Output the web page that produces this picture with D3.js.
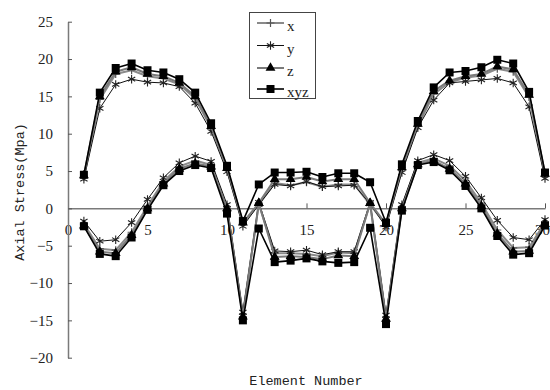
<!DOCTYPE html>
<html>
<head>
<meta charset="utf-8">
<script src="https://cdn.jsdelivr.net/npm/d3@7/dist/d3.min.js"></script>
<style>
  html, body { margin: 0; padding: 0; background: #fff; }
  svg { display: block; }
  .tick text { font-family: "Liberation Serif", serif; font-size: 15px; fill: #222; }
  .title { font-family: "Liberation Mono", monospace; font-size: 13.5px; fill: #222; }
  .leg { font-family: "Liberation Serif", serif; font-size: 15px; fill: #222; }
</style>
</head>
<body>
<svg id="chart" width="550" height="390"></svg>
<script>
// Element numbers along the beam
const elements = [1, 2, 3, 4, 5, 6, 7, 8, 9, 10, 11, 12, 13, 14, 15,
                  16, 17, 18, 19, 20, 21, 22, 23, 24, 25, 26, 27, 28, 29, 30];

// Axial stress (MPa), upper and lower fibre curves for each load direction
const xUpper   = [4.2, 14.6, 18.0, 18.5, 17.7, 17.4, 16.6, 14.7, 10.8, 5.2, -2.0, 0.5, 3.4, 3.1, 3.5, 2.9, 3.2, 3.2, 0.5, -2.2, 5.2, 11.0, 15.3, 16.9, 17.5, 17.8, 18.7, 18.3, 14.9, 4.4];
const xLower   = [-2.1, -5.4, -5.6, -3.2, 0.3, 3.6, 5.6, 6.4, 5.8, 0.2, -14.2, 0.6, -6.0, -6.0, -6.1, -6.4, -5.9, -6.0, 0.6, -14.6, 0.2, 6.1, 6.7, 5.7, 3.7, 0.7, -2.9, -5.3, -5.2, -1.9];
const yUpper   = [3.9, 13.4, 16.6, 17.3, 16.9, 16.8, 16.3, 14.1, 10.3, 4.9, -2.4, 0.5, 3.2, 3.0, 3.6, 2.9, 3.0, 3.1, 0.6, -2.5, 4.8, 10.8, 14.5, 16.8, 17.0, 17.2, 17.4, 16.8, 13.6, 4.0];
const yLower   = [-1.7, -4.4, -4.2, -1.9, 1.2, 4.1, 6.1, 7.0, 6.3, 0.5, -13.9, 0.8, -5.7, -5.8, -5.6, -6.2, -5.8, -5.8, 0.8, -14.3, 0.5, 6.4, 7.2, 6.4, 4.3, 1.4, -1.6, -3.9, -4.2, -1.5];
const zUpper   = [4.4, 15.0, 18.3, 18.9, 18.0, 17.7, 16.8, 15.0, 11.0, 5.4, -1.9, 0.7, 3.9, 3.9, 4.2, 3.6, 3.9, 3.9, 0.7, -2.1, 5.5, 11.3, 15.7, 17.1, 17.7, 18.0, 19.0, 18.6, 15.2, 4.6];
const zLower   = [-2.3, -5.8, -6.0, -3.6, 0.0, 3.3, 5.3, 6.0, 5.6, 0.0, -14.5, 0.7, -6.5, -6.4, -6.5, -6.8, -6.3, -6.4, 0.7, -14.8, 0.0, 5.9, 6.4, 5.3, 3.3, 0.3, -3.4, -5.8, -5.7, -2.1];
const xyzUpper = [4.5, 15.5, 18.8, 19.4, 18.5, 18.2, 17.3, 15.5, 11.4, 5.7, -1.7, 3.2, 4.8, 4.8, 4.9, 4.2, 4.7, 4.7, 3.5, -1.9, 5.9, 11.7, 16.2, 18.2, 18.4, 18.9, 19.9, 19.4, 15.6, 4.8];
const xyzLower = [-2.4, -6.1, -6.4, -3.9, -0.2, 3.1, 5.0, 5.8, 5.4, -0.7, -15.0, -2.7, -7.2, -7.0, -6.7, -7.1, -7.3, -7.2, -2.6, -15.5, -0.3, 5.8, 6.2, 5.1, 3.0, 0.0, -3.7, -6.2, -6.0, -2.3];

const seriesNames = ["x", "y", "z", "xyz"];
const xTicks = [0, 5, 10, 15, 20, 25, 30];
const yTicks = [-20, -15, -10, -5, 0, 5, 10, 15, 20, 25];

const svg = d3.select("#chart");

const xScale = d3.scaleLinear().domain([0, 30]).range([68, 545]);
const yScale = d3.scaleLinear().domain([-20, 25]).range([357.7, 21.7]);

// marker shapes
const markerPaths = {
  plus: () => "M-4,0H4M0,-4V4",
  star: () => {
    const r = 4.2, c = Math.cos(Math.PI / 6) * r, s = Math.sin(Math.PI / 6) * r;
    return `M0,${-r}V${r}M${-c},${-s}L${c},${s}M${-c},${s}L${c},${-s}`;
  },
  triangle: d3.symbol(d3.symbolTriangle, 42),
  square: d3.symbol(d3.symbolSquare, 64)
};

const styles = {
  x:   { line: "#8a8a8a", width: 2,   marker: "plus",     mFill: "none", mStroke: "#555", mWidth: 1.2 },
  y:   { line: "#111",    width: 1,   marker: "star",     mFill: "none", mStroke: "#222", mWidth: 1.1 },
  z:   { line: "#7a7a7a", width: 2,   marker: "triangle", mFill: "#000", mStroke: "none", mWidth: 0 },
  xyz: { line: "#000",    width: 1.6, marker: "square",   mFill: "#000", mStroke: "none", mWidth: 0 }
};

const curves = {
  x:   [xUpper, xLower],
  y:   [yUpper, yLower],
  z:   [zUpper, zLower],
  xyz: [xyzUpper, xyzLower]
};

// x-axis tick labels sit under the zero line; the "0" label lies behind the y axis
const xAxis = d3.axisBottom(xScale).tickValues(xTicks).tickSizeInner(-5).tickSizeOuter(0).tickPadding(16);
const gx = svg.append("g").attr("transform", `translate(0,${yScale(0)})`).call(xAxis);
gx.select(".domain").attr("stroke", "#7a7a7a").attr("stroke-width", 1.5);
gx.selectAll(".tick line").attr("stroke", "#555");
gx.selectAll(".tick text").filter(d => d === 0).attr("fill", "#999");
// keep the last label inside the right edge
gx.selectAll(".tick text").filter(d => d === 30).attr("text-anchor", "end").attr("x", 4.5);

const yAxis = d3.axisLeft(yScale).tickValues(yTicks).tickSizeInner(-4).tickSizeOuter(0).tickPadding(15)
  .tickFormat(d => d < 0 ? "\u2212" + Math.abs(d) : d);
const gy = svg.append("g").attr("transform", `translate(${xScale(0)},0)`).call(yAxis);
gy.select(".domain").attr("stroke", "#7a7a7a").attr("stroke-width", 1.5);
gy.selectAll(".tick line").attr("stroke", "#555");

const line = d3.line().x((d, i) => xScale(elements[i])).y(d => yScale(d));

const plot = svg.append("g");
seriesNames.forEach(name => {
  const st = styles[name];
  curves[name].forEach(vals => {
    plot.append("path")
      .attr("d", line(vals))
      .attr("fill", "none")
      .attr("stroke", st.line)
      .attr("stroke-width", st.width)
      .attr("stroke-linejoin", "round");
    plot.append("g").selectAll("path")
      .data(vals)
      .join("path")
      .attr("transform", (d, i) => `translate(${xScale(elements[i])},${yScale(d)})`)
      .attr("d", markerPaths[st.marker]())
      .attr("fill", st.mFill)
      .attr("stroke", st.mStroke)
      .attr("stroke-width", st.mWidth);
  });
});

// legend
const leg = svg.append("g");
leg.append("rect").attr("x", 249.5).attr("y", 12.5).attr("width", 66).attr("height", 86)
  .attr("fill", "#fff").attr("stroke", "#444").attr("stroke-width", 1);
const rowY = [23, 45.5, 68, 89];
seriesNames.forEach((name, i) => {
  const st = styles[name];
  const g = leg.append("g");
  g.append("line").attr("x1", 257).attr("x2", 284).attr("y1", rowY[i]).attr("y2", rowY[i])
    .attr("stroke", st.line).attr("stroke-width", st.width);
  g.append("path").attr("transform", `translate(270.5,${rowY[i]})`)
    .attr("d", markerPaths[st.marker]())
    .attr("fill", st.mFill).attr("stroke", st.mStroke).attr("stroke-width", st.mWidth);
  g.append("text").attr("class", "leg").attr("x", 287).attr("y", rowY[i] + 8).text(name);
});

// axis titles
svg.append("text").attr("class", "title")
  .attr("x", 306).attr("y", 385).attr("text-anchor", "middle").text("Element Number");
svg.append("text").attr("class", "title")
  .attr("transform", "translate(24,192) rotate(-90)")
  .attr("text-anchor", "middle").text("Axial Stress(Mpa)");
</script>
</body>
</html>
